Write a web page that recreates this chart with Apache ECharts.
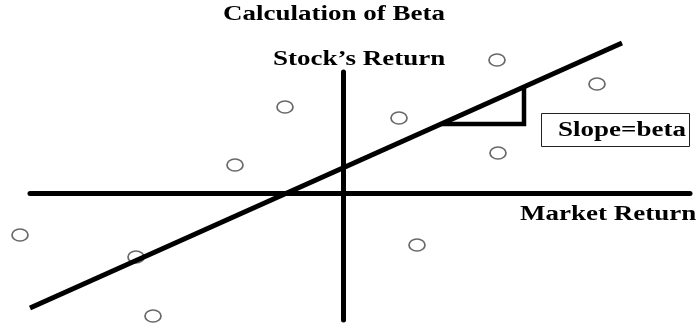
<!DOCTYPE html>
<html>
<head>
<meta charset="utf-8">
<script src="https://cdn.jsdelivr.net/npm/echarts@6/dist/echarts.min.js"></script>
<style>
  html, body { margin: 0; padding: 0; background: #fff; }
  #chart { width: 696px; height: 323px; }
</style>
</head>
<body>
<div id="chart"></div>
<script>
// observations: market return (x) vs stock return (y)
var marketReturn = [15.4, 25.4, -5.8, 5.6, 15.5, -10.8, -32.3, -20.7, 7.4, -19.0]
var stockReturn = [13.3, 10.9, 8.6, 7.5, 4.0, 2.8, -4.2, -6.4, -5.2, -12.3]

// fitted line end points and the slope triangle
var fitLine = [[-31.3, -11.5], [27.9, 15.0]]
var slopeLeg = [[9.8, 6.9], [18.1, 6.9], [18.1, 10.6]]

var points = marketReturn.map(function (x, i) {
  return [x, stockReturn[i]]
})

// the lettering in the picture is a wide, stretched times bold
var labelFont = 'bold 20px "Liberation Serif"'
var stretch = 1.35

function label (text, x, y) {
  return {
    type: 'text',
    x: x,
    y: y,
    scaleX: stretch,
    style: { text: text, font: labelFont, fill: '#000', verticalAlign: 'middle' }
  }
}

var chart = echarts.init(document.getElementById('chart'))

var option = {
  animation: false,
  grid: {
    left: 30,
    right: 6,
    top: 72,
    bottom: 3
  },
  xAxis: {
    type: 'value',
    min: -31.3,
    max: 34.7,
    axisLine: { show: true, onZero: true, lineStyle: { color: '#000', width: 5 } },
    axisTick: { show: false },
    axisLabel: { show: false },
    splitLine: { show: false }
  },
  yAxis: {
    type: 'value',
    min: -12.7,
    max: 12.1,
    axisLine: { show: true, onZero: true, lineStyle: { color: '#000', width: 5 } },
    axisTick: { show: false },
    axisLabel: { show: false },
    splitLine: { show: false }
  },
  graphic: [
    label('Calculation of Beta', 223, 15),
    label('Stock\u2019s Return', 273, 60),
    label('Market Return', 520, 215),
    {
      type: 'rect',
      shape: { x: 541.5, y: 113.5, width: 148, height: 33 },
      style: { fill: '#fff', stroke: '#222', lineWidth: 1 }
    },
    label('Slope=beta', 558, 131)
  ],
  series: [
    {
      type: 'line',
      data: fitLine,
      clip: false,
      symbol: 'none',
      lineStyle: { color: '#000', width: 5 }
    },
    {
      type: 'line',
      data: slopeLeg,
      clip: false,
      symbol: 'none',
      lineStyle: { color: '#000', width: 4.5, join: 'miter' }
    },
    {
      type: 'scatter',
      data: points,
      clip: false,
      symbol: 'circle',
      symbolSize: [16, 12],
      itemStyle: { color: '#fff', borderColor: '#444', borderWidth: 1.5 }
    }
  ]
}

chart.setOption(option)
</script>
</body>
</html>
